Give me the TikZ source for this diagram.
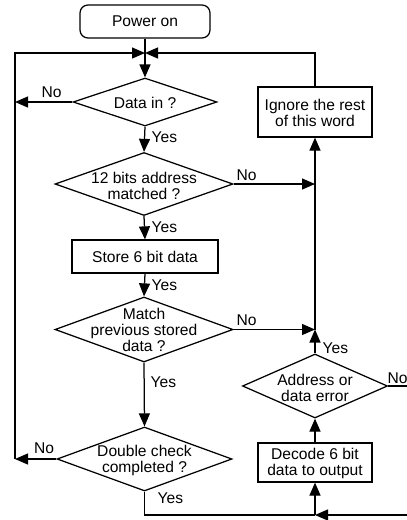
\documentclass[tikz,border=0pt]{standalone}
\usepackage{fontspec}
\setmainfont{Liberation Sans}
\usetikzlibrary{arrows.meta,shapes.geometric}
\begin{document}
\begin{tikzpicture}[x=1pt,y=-1pt,
  line width=1.25pt,
  font=\fontsize{15.6pt}{16pt}\selectfont,
  arr/.style={-{Triangle[length=13pt,width=11pt]}},
  box/.style={draw,rectangle,inner sep=0pt},
  dia/.style={draw,diamond,inner sep=0pt},
  txt/.style={align=center,inner sep=0pt},
  lbl/.style={inner sep=0pt}]
\clip (0,0) rectangle (407,520);
\fill[white] (0,0) rectangle (407,520);
% nodes
\node[box,rounded corners=8pt,minimum width=130pt,minimum height=33pt] (power) at (145,21.5) {Power on};
\node[dia,minimum width=144pt,minimum height=48pt] (d1) at (145,102) {};
\node[txt] (d1t) at (145,103) {Data in ?};
\node[dia,minimum width=178pt,minimum height=63pt] (d2) at (144,184) {};
\node[txt] (d2t) at (144,186) {12 bits address\\matched ?};
\node[box,minimum width=146pt,minimum height=33pt] (store) at (145,256.5) {Store 6 bit data};
\node[dia,minimum width=178pt,minimum height=65pt] (d3) at (144,329.5) {};
\node[txt] (d3t) at (144,330) {Match\\previous stored\\data ?};
\node[dia,minimum width=175pt,minimum height=64pt] (d4) at (144.5,459) {};
\node[txt] (d4t) at (144.5,460) {Double check\\completed ?};
\node[box,minimum width=114pt,minimum height=50pt] (ignore) at (315,112) {};
\node[txt] (ignoret) at (315,113) {Ignore the rest\\of this word};
\node[dia,minimum width=145pt,minimum height=64pt] (d5) at (315,386) {};
\node[txt] (d5t) at (315,388) {Address or\\data error};
\node[box,minimum width=114pt,minimum height=39pt] (decode) at (315,462.5) {};
\node[txt] (decodet) at (315,463) {Decode 6 bit\\data to output};
% coordinates
\coordinate (J) at (145,53);
\coordinate (L1) at (15,102);
\coordinate (L4) at (15,459);
\coordinate (LT) at (15,53);
\coordinate (RT) at (315,53);
\coordinate (R2) at (315,184);
\coordinate (R3) at (315,329.5);
\coordinate (B1) at (144.5,515);
\coordinate (B2) at (315,515);
\coordinate (E1) at (425,386);
\coordinate (E2) at (425,515);
% connectors
\draw[arr] (power.south) -- (d1.north);
\draw[arr] (d1.west) -- (L1);
\draw[arr] (d4.west) -- (L4);
\draw[arr] (L4) -- (LT) -- (J);
\draw[arr] (ignore.north) -- (RT) -- (J);
\draw[arr] (d1.south) -- (d2.north);
\draw[arr] (d2.east) -- (R2);
\draw[arr] (d2.south) -- (store.north);
\draw[arr] (store.south) -- (d3.north);
\draw[arr] (d3.east) -- (R3);
\draw[arr] (d5.north) -- (R3);
\draw[arr] (R3) -- (ignore.south);
\draw[arr] (d3.south) -- (d4.north);
\draw (d4.south) -- (B1) -- (B2);
\draw[arr] (B2) -- (decode.south);
\draw[arr] (decode.north) -- (d5.south);
\draw[arr] (d5.east) -- (E1) -- (E2) -- (B2);
% labels
\node[lbl] (n1) at (51.5,92) {No};
\node[lbl,anchor=west] (n2) at (236,175) {No};
\node[lbl,anchor=west] (n3) at (236,320) {No};
\node[lbl] (n4) at (44,448) {No};
\node[lbl,anchor=west] (n5) at (387,378) {No};
\node[lbl,anchor=west] (y1) at (151,137) {Yes};
\node[lbl,anchor=west] (y2) at (151,227) {Yes};
\node[lbl,anchor=west] (y3) at (151,285) {Yes};
\node[lbl,anchor=west] (y4) at (150,382) {Yes};
\node[lbl,anchor=west] (y5) at (157,498) {Yes};
\node[lbl,anchor=west] (y6) at (322,348) {Yes};
\end{tikzpicture}
\end{document}
